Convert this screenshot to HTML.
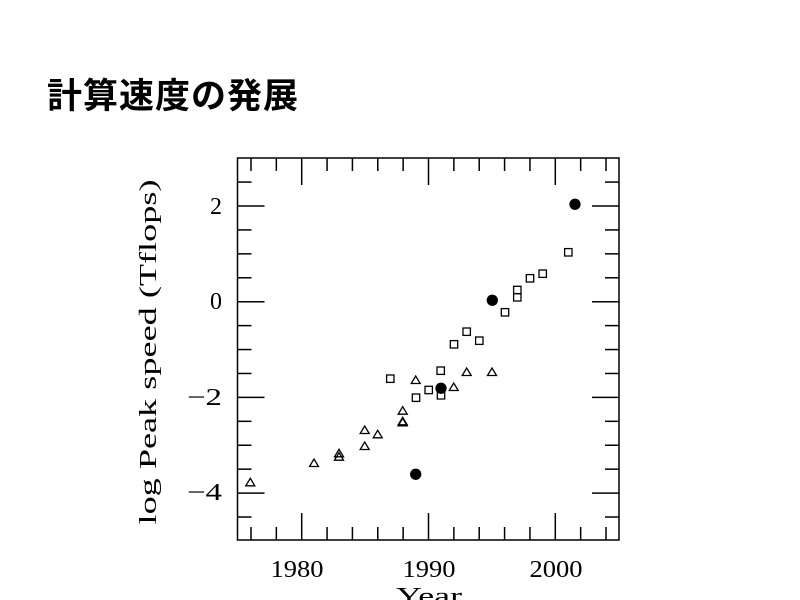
<!DOCTYPE html>
<html><head><meta charset="utf-8"><style>
html,body{margin:0;padding:0;background:#fff;width:800px;height:600px;overflow:hidden}
.t{position:absolute;left:47px;top:68px;font:bold 35px "Liberation Sans","Noto Sans CJK JP",sans-serif;letter-spacing:1px;color:#000}
</style></head><body>
<div class="t">計算速度の発展</div>
<svg width="800" height="600" style="position:absolute;left:0;top:0" font-family="Liberation Serif, serif">
<g stroke="#000" stroke-width="1.5" fill="none">
<rect x="237.5" y="158" width="381.5" height="382"/>
</g>
<g id="ticks" stroke="#000" stroke-width="1.5"></g>
<g id="pts" stroke="#000" stroke-width="1.3" fill="none"></g>
<g font-size="24" fill="#000">
<text x="297" y="577" text-anchor="middle" textLength="53" lengthAdjust="spacingAndGlyphs">1980</text>
<text x="429" y="577" text-anchor="middle" textLength="53" lengthAdjust="spacingAndGlyphs">1990</text>
<text x="556" y="577" text-anchor="middle" textLength="53" lengthAdjust="spacingAndGlyphs">2000</text>
<text x="429" y="604" text-anchor="middle" textLength="66" lengthAdjust="spacingAndGlyphs">Year</text>
<text x="222" y="214" text-anchor="end">2</text>
<text x="222" y="309" text-anchor="end">0</text>
<text x="222" y="405" text-anchor="end" textLength="35" lengthAdjust="spacingAndGlyphs">−2</text>
<text x="222" y="500" text-anchor="end" textLength="35" lengthAdjust="spacingAndGlyphs">−4</text>
<text transform="translate(156,352) rotate(-90)" text-anchor="middle" textLength="345" lengthAdjust="spacingAndGlyphs">log Peak speed (Tflops)</text>
</g>
</svg>
<script>
var ns="http://www.w3.org/2000/svg",T=document.getElementById("ticks"),P=document.getElementById("pts");
function L(x1,y1,x2,y2){var l=document.createElementNS(ns,"line");l.setAttribute("x1",x1);l.setAttribute("y1",y1);l.setAttribute("x2",x2);l.setAttribute("y2",y2);T.appendChild(l);}
for(var yr=1976;yr<=2004;yr+=2){var x=301.7+(yr-1980)*12.68,m=yr%10==0?27:13;L(x,540,x,540-m);L(x,158,x,158+m);}
for(var v=-4.5;v<=2.5;v+=0.5){var y=301.7-v*47.85,m=Math.abs(v%2)<0.01?27:14;L(237.5,y,237.5+m,y);L(619,y,619-m,y);}
function S(x,y){var r=document.createElementNS(ns,"rect");r.setAttribute("x",x-3.7);r.setAttribute("y",y-3.7);r.setAttribute("width",7.4);r.setAttribute("height",7.4);P.appendChild(r);}
function Tr(x,y){var p=document.createElementNS(ns,"polygon");p.setAttribute("points",(x-4.5)+","+(y+3.5)+" "+(x+4.5)+","+(y+3.5)+" "+x+","+(y-4));P.appendChild(p);}
function C(x,y){var c=document.createElementNS(ns,"circle");c.setAttribute("cx",x);c.setAttribute("cy",y);c.setAttribute("r",5);c.setAttribute("fill","#000");P.appendChild(c);}
[[568.3,252.3],[542.7,273.7],[530,278.3],[517.3,290],[517.3,297.3],[505,312.3],[466.7,331.7],[479.3,340.7],[454,344.3],[440.7,370.7],[390.3,378.7],[428.7,390],[441,395.3],[416,397.7]].forEach(function(a){S(a[0],a[1])});
[[466.7,372],[492,372],[415.7,380],[453.7,387],[402.7,410.7],[402.7,421.3],[402.7,422.3],[364.7,430],[377.7,434.3],[364.7,446],[339,453.3],[339,456.7],[314,463],[250.3,482.3]].forEach(function(a){Tr(a[0],a[1])});
[[575,204.3],[492.3,300.3],[441,388.3],[415.7,474.3]].forEach(function(a){C(a[0],a[1])});
</script>
</body></html>
